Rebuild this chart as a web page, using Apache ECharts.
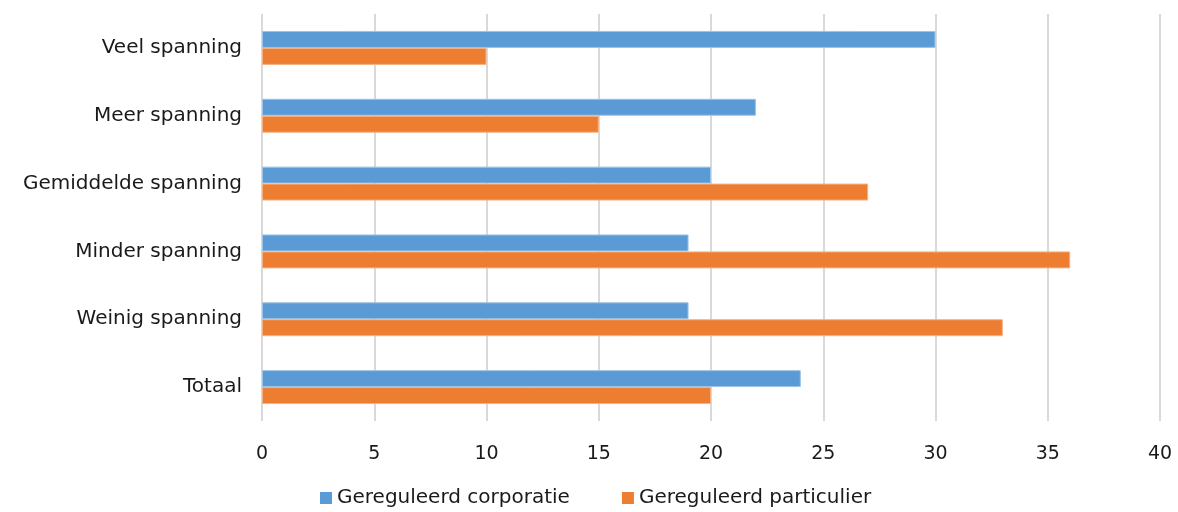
<!DOCTYPE html>
<html>
<head>
<meta charset="utf-8">
<script src="https://cdn.jsdelivr.net/npm/echarts@6/dist/echarts.min.js"></script>
<style>
  html, body { margin: 0; padding: 0; background: #fff; }
  #chart { width: 1178px; height: 512px; }
</style>
</head>
<body>
<div id="chart"></div>
<script>
  // categorieen, van boven naar beneden
  const categories = ['Veel spanning', 'Meer spanning', 'Gemiddelde spanning', 'Minder spanning', 'Weinig spanning', 'Totaal'];
  const corporatie = [30, 22, 20, 19, 19, 24];
  const particulier = [10, 15, 27, 36, 33, 20];
  const seriesNames = ['Gereguleerd corporatie', 'Gereguleerd particulier'];

  const chart = echarts.init(document.getElementById('chart'));
  const font = 'Verdana, "DejaVu Sans", sans-serif';

  chart.setOption({
    animation: false,
    textStyle: { fontFamily: font },
    grid: { left: 262, right: 18, top: 14, bottom: 91 },
    legend: {
      data: seriesNames,
      bottom: -1,
      left: 315,
      itemWidth: 12,
      itemHeight: 12,
      itemGap: 52,
      icon: 'rect',
      itemStyle: { borderWidth: 0 },
      textStyle: { fontFamily: font, fontSize: 20, color: '#1a1a1a' }
    },
    xAxis: {
      type: 'value',
      min: 0,
      max: 40,
      interval: 5,
      axisLine: { show: false },
      axisTick: { show: false },
      splitLine: { lineStyle: { color: '#d9d9d9', width: 2 } },
      axisLabel: { fontSize: 19, color: '#1a1a1a', margin: 24 }
    },
    yAxis: {
      type: 'category',
      data: categories,
      inverse: true,
      axisLine: { show: false },
      axisTick: { show: false },
      axisLabel: { fontSize: 20, color: '#1a1a1a', margin: 20 }
    },
    series: [
      {
        name: seriesNames[0],
        type: 'bar',
        data: corporatie,
        barGap: '0%',
        barCategoryGap: '50%',
        itemStyle: { color: '#5b9bd5', borderColor: '#9dc3e6', borderWidth: 1 }
      },
      {
        name: seriesNames[1],
        type: 'bar',
        data: particulier,
        barGap: '0%',
        barCategoryGap: '50%',
        itemStyle: { color: '#ed7d31', borderColor: '#f4b183', borderWidth: 1 }
      }
    ]
  });
</script>
</body>
</html>
